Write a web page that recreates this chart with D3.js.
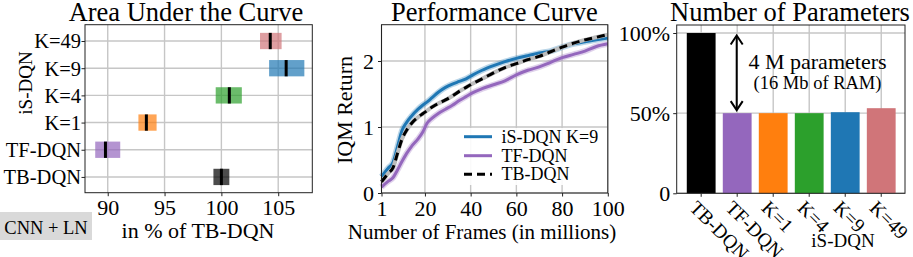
<!DOCTYPE html>
<html><head><meta charset="utf-8">
<script src="https://cdn.jsdelivr.net/npm/d3@7"></script>
<style>
html,body{margin:0;padding:0;background:#fff;}
</style></head>
<body><svg id="c" width="913" height="257" font-family="Liberation Serif"></svg>
<script>
// ---------- data ----------
const methods = ["TB-DQN","TF-DQN","K=1","K=4","K=9","K=49"];
const methodColors = ["#000000","#9467bd","#ff7f0e","#2ca02c","#1f77b4","#d07579"];
const aucMedian = [100.0, 89.8, 93.4, 100.7, 105.7, 104.3];
const aucLow    = [99.3, 88.9, 92.7, 99.5, 104.2, 103.4];
const aucHigh   = [100.7, 91.1, 94.3, 101.8, 107.3, 105.3];
const aucTicks  = [90, 95, 100, 105];

const frames = [1,4,6,8,10,12,14,17,19,21,23,26,29,32,35,38,41,45,50,55,60,65,70,75,80,85,90,95,100];
const isdqnK9 = [0.25,0.38,0.46,0.70,0.95,1.07,1.16,1.27,1.33,1.38,1.44,1.53,1.60,1.65,1.69,1.73,1.79,1.86,1.93,1.99,2.04,2.08,2.12,2.15,2.21,2.26,2.29,2.32,2.35];
const tfdqn   = [0.09,0.18,0.23,0.35,0.48,0.60,0.70,0.82,0.92,1.06,1.13,1.21,1.27,1.33,1.40,1.46,1.52,1.58,1.64,1.70,1.79,1.86,1.91,1.98,2.05,2.10,2.15,2.22,2.26];
const tbdqn   = [0.17,0.30,0.38,0.60,0.82,0.95,1.05,1.15,1.20,1.25,1.30,1.36,1.41,1.47,1.54,1.60,1.66,1.73,1.82,1.90,1.96,2.02,2.07,2.14,2.21,2.27,2.32,2.36,2.40];
const frameTicks = [1,20,40,60,80,100];
const returnTicks = [0,1,2];

const paramShare = [1.00, 0.50, 0.50, 0.50, 0.506, 0.531];
const paramTicks = [0, 0.5, 1.0];
const paramTickLabels = ["0","50%","100%"];

// ---------- drawing ----------
const FONT = "Liberation Serif";
const svg = d3.select("#c");
const GRID = "#c6c6c6", SPINE = "#222";
function frame(g, x0, x1, y0, y1){
  g.append("rect").attr("x",x0).attr("y",y0).attr("width",x1-x0).attr("height",y1-y0)
   .attr("fill","none").attr("stroke",SPINE).attr("stroke-width",1);
}
function txt(g, x, y, size, s, anchor){
  return g.append("text").attr("x",x).attr("y",y).attr("text-anchor",anchor||"middle")
    .attr("font-family",FONT).attr("font-size",size).attr("fill","#000").text(s);
}
function styleAxis(a, size){
  a.attr("font-family",FONT).attr("font-size",size);
  a.select(".domain").remove();
  a.selectAll("line").attr("stroke",SPINE);
  a.selectAll("text").attr("fill","#000").attr("font-family",FONT);
}

// ===== Panel 1: Area Under the Curve =====
{
  const L=85, R=312.3, T=24.7, B=192.7;
  const x = d3.scaleLinear().domain([88,108]).range([L,R]);
  const y = d3.scaleLinear().domain([-0.58,5.6]).range([B,T]);
  const g = svg.append("g");
  g.selectAll(".gx").data(aucTicks).join("line").attr("x1",d=>x(d)).attr("x2",d=>x(d))
    .attr("y1",T).attr("y2",B).attr("stroke",GRID).attr("stroke-width",1.4);
  g.selectAll(".gy").data(methods).join("line").attr("y1",(d,i)=>y(i)).attr("y2",(d,i)=>y(i))
    .attr("x1",L).attr("x2",R).attr("stroke",GRID).attr("stroke-width",1.4);
  const hh = y(0)-y(0.3);
  g.selectAll(".box").data(methods).join("rect")
    .attr("x",(d,i)=>x(aucLow[i])).attr("width",(d,i)=>x(aucHigh[i])-x(aucLow[i]))
    .attr("y",(d,i)=>y(i)-hh).attr("height",2*hh)
    .attr("fill",(d,i)=>methodColors[i]).attr("fill-opacity",0.7);
  g.selectAll(".med").data(methods).join("line")
    .attr("x1",(d,i)=>x(aucMedian[i])).attr("x2",(d,i)=>x(aucMedian[i]))
    .attr("y1",(d,i)=>y(i)-hh).attr("y2",(d,i)=>y(i)+hh)
    .attr("stroke","#000").attr("stroke-width",3);
  frame(g,L,R,T,B);
  const ax = d3.axisBottom(x).tickValues(aucTicks).tickSize(3.5).tickPadding(3);
  const xa = g.append("g").attr("transform",`translate(0,${B})`).call(ax);
  const ay = d3.axisLeft(y).tickValues(d3.range(methods.length)).tickFormat(i=>methods[i]).tickSize(3.5).tickPadding(0.5);
  const ya = g.append("g").attr("transform",`translate(${L},0)`).call(ay);
  styleAxis(xa,22); styleAxis(ya,20.5);
  xa.selectAll("text").attr("dy","0.74em");
  ya.selectAll("text").attr("dy","0.34em");
  txt(g,186,20.5,26.5,"Area Under the Curve");
  txt(g,198,238,22,"in % of TB-DQN");
  g.append("text").attr("transform",`translate(32,83) rotate(-90)`).attr("text-anchor","middle")
    .attr("font-family",FONT).attr("font-size",19).text("iS-DQN");
  g.append("rect").attr("x",0).attr("y",212).attr("width",92).attr("height",28).attr("fill","#d9d9d9");
  txt(g,46,233.5,18.5,"CNN + LN");
}

// ===== Panel 2: Performance Curve =====
{
  const L=381.5, R=607.8, T=24.7, B=193;
  const x = d3.scaleLinear().domain([1,100]).range([L,R]);
  const y = d3.scaleLinear().domain([0,2.55]).range([B,T]);
  const g = svg.append("g");
  g.selectAll(".gx").data(frameTicks).join("line").attr("x1",d=>x(d)).attr("x2",d=>x(d))
    .attr("y1",T).attr("y2",B).attr("stroke",GRID).attr("stroke-width",1.4);
  g.selectAll(".gy").data(returnTicks).join("line").attr("y1",d=>y(d)).attr("y2",d=>y(d))
    .attr("x1",L).attr("x2",R).attr("stroke",GRID).attr("stroke-width",1.4);
  const line = vals => d3.line().x((d,i)=>x(frames[i])).y(d=>y(d)).curve(d3.curveMonotoneX)(vals);
  const series = [
    {name:"iS-DQN K=9", vals:isdqnK9, color:"#1f77b4", dash:null, halo:"#1f77b4"},
    {name:"TF-DQN", vals:tfdqn, color:"#9467bd", dash:null, halo:"#9467bd"},
    {name:"TB-DQN", vals:tbdqn, color:"#000", dash:"8,5", halo:"#bcbcbc"}
  ];
  const cg = g.append("g");
  [1,0,2].forEach(k=>{
    const s=series[k];
    cg.append("path").attr("d",line(s.vals)).attr("fill","none").attr("stroke",s.halo)
      .attr("stroke-opacity",s.dash?1:0.3).attr("stroke-width",s.dash?4:6);
    cg.append("path").attr("d",line(s.vals)).attr("fill","none").attr("stroke",s.color)
      .attr("stroke-width",3).attr("stroke-dasharray",s.dash);
  });
  const lg = g.append("g");
  lg.append("rect").attr("x",456).attr("y",128).attr("width",150).attr("height",57).attr("fill","#fff").attr("fill-opacity",0.9);
  const rows=[136.7,155.7,174.3];
  series.forEach((s,i)=>{
    lg.append("line").attr("x1",464).attr("x2",492).attr("y1",rows[i]).attr("y2",rows[i])
      .attr("stroke",s.color).attr("stroke-width",3).attr("stroke-dasharray",s.dash?"8,5":null);
    txt(lg,501.5,rows[i]+6,18,s.name,"start");
  });
  frame(g,L,R,T,B);
  const ax = d3.axisBottom(x).tickValues(frameTicks).tickSize(3.5).tickPadding(3);
  const xa = g.append("g").attr("transform",`translate(0,${B})`).call(ax);
  const ay = d3.axisLeft(y).tickValues(returnTicks).tickFormat(d3.format("d")).tickSize(3.5).tickPadding(4);
  const ya = g.append("g").attr("transform",`translate(${L},0)`).call(ay);
  styleAxis(xa,22); styleAxis(ya,22);
  xa.selectAll("text").attr("dy","0.74em");
  ya.selectAll("text").attr("dy","0.34em");
  txt(g,494.5,20.5,26.5,"Performance Curve");
  txt(g,482,238.5,21,"Number of Frames (in millions)");
  g.append("text").attr("transform",`translate(352,110) rotate(-90)`).attr("text-anchor","middle")
    .attr("font-family",FONT).attr("font-size",22).text("IQM Return");
}

// ===== Panel 3: Number of Parameters =====
{
  const L=676.7, R=905, T=25, B=193.3;
  const x = d3.scaleLinear().domain([-0.68,5.66]).range([L,R]);
  const y = d3.scaleLinear().domain([0,1.05]).range([B,T]);
  const g = svg.append("g");
  g.selectAll(".gx").data(methods).join("line").attr("x1",(d,i)=>x(i)).attr("x2",(d,i)=>x(i))
    .attr("y1",T).attr("y2",B).attr("stroke",GRID).attr("stroke-width",1.4);
  g.selectAll(".gy").data(paramTicks).join("line").attr("y1",d=>y(d)).attr("y2",d=>y(d))
    .attr("x1",L).attr("x2",R).attr("stroke",GRID).attr("stroke-width",1.4);
  const bw = x(0.4)-x(-0.4);
  g.selectAll(".bar").data(methods).join("rect")
    .attr("x",(d,i)=>x(i)-bw/2).attr("width",bw)
    .attr("y",(d,i)=>y(paramShare[i])).attr("height",(d,i)=>y(0)-y(paramShare[i]))
    .attr("fill",(d,i)=>methodColors[i]);
  frame(g,L,R,T,B);
  const ay = d3.axisLeft(y).tickValues(paramTicks).tickFormat((d,i)=>paramTickLabels[i]).tickSize(3.5).tickPadding(3);
  const ya = g.append("g").attr("transform",`translate(${L},0)`).call(ay);
  styleAxis(ya,22);
  ya.selectAll("text").attr("dy","0.34em");
  g.selectAll(".xt").data(methods).join("line").attr("x1",(d,i)=>x(i)).attr("x2",(d,i)=>x(i))
    .attr("y1",B).attr("y2",B+3.5).attr("stroke",SPINE);
  g.selectAll(".xl").data(methods).join("text")
    .attr("transform",(d,i)=>`translate(${x(i)-3},${B+6}) rotate(45)`)
    .attr("dominant-baseline","hanging").attr("font-family",FONT).attr("font-size",19.5).text(d=>d);
  txt(g,843,247,19,"iS-DQN");
  const ax0 = x(1)-0.5, ya0 = y(paramShare[0])+2.5, ya1 = y(paramShare[1])-3;
  g.append("line").attr("x1",ax0).attr("x2",ax0).attr("y1",ya0+1).attr("y2",ya1-1).attr("stroke","#000").attr("stroke-width",2);
  g.append("path").attr("d",`M${ax0-6},${ya0+9}L${ax0},${ya0}L${ax0+6},${ya0+9}`).attr("fill","none").attr("stroke","#000").attr("stroke-width",2);
  g.append("path").attr("d",`M${ax0-6},${ya1-9}L${ax0},${ya1}L${ax0+6},${ya1-9}`).attr("fill","none").attr("stroke","#000").attr("stroke-width",2);
  txt(g,817.5,68.5,22,"4 M parameters");
  txt(g,817.5,88.5,18.5,"(16 Mb of RAM)");
  txt(g,790,20.5,26.5,"Number of Parameters");
}
</script></body></html>
